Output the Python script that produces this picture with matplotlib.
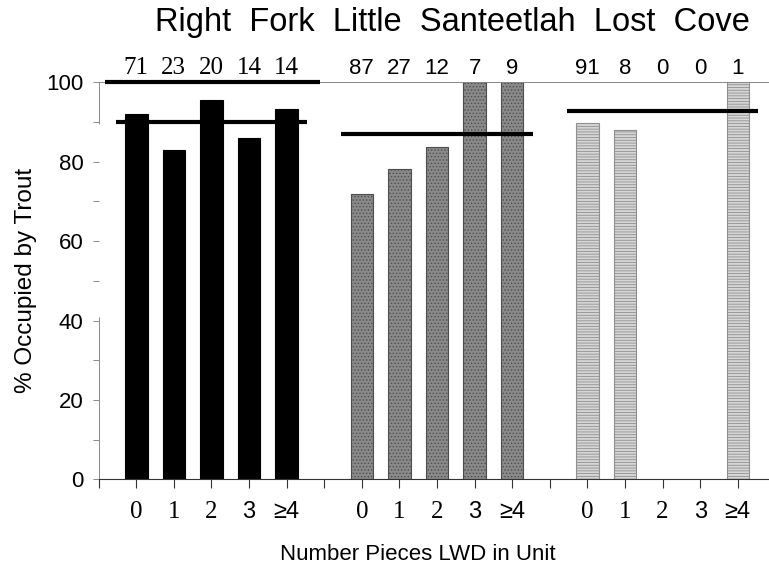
import numpy as np
import matplotlib
matplotlib.use('Agg')
from matplotlib import pyplot as plt

plt.rcParams['font.family'] = ['Liberation Sans', 'DejaVu Sans']
plt.rcParams['hatch.linewidth'] = 0.6

# data
streams = ['Right Fork', 'Little Santeetlah', 'Lost Cove']
lwd_labels = ['0', '1', '2', '3', '\u22654']
right_fork = [92.0, 82.9, 95.5, 86.1, 93.3]
little_sant = [71.8, 78.2, 83.8, 100.0, 100.0]
lost_cove = [89.7, 88.1, 0.0, 0.0, 100.0]
stream_means = [90.1, 87.1, 92.8]
counts_rf = [71, 23, 20, 14, 14]
counts_ls = [87, 27, 12, 7, 9]
counts_lc = [91, 8, 0, 0, 1]

values = [right_fork, little_sant, lost_cove]
counts = [counts_rf, counts_ls, counts_lc]
face = ['black', '#8a8a8a', '#d6d6d6']
edge = ['black', '#4d4d4d', '#8f8f8f']
hatch = [None, '.....', '------']

fig = plt.figure(figsize=(7.69, 5.69), dpi=100)
ax = fig.add_axes([0.1283, 0.1576, 0.8717, 0.6977])

for g in range(3):
    x = np.arange(5) + 1 + 6 * g
    vals = np.array(values[g])
    keep = vals > 0
    ax.bar(x[keep], vals[keep], width=0.6, color=face[g], edgecolor=edge[g],
           hatch=hatch[g], linewidth=0.8, zorder=2)
    # stream mean
    ax.hlines(stream_means[g], x[0] - 0.55, x[-1] + 0.55, color='black', lw=3, zorder=3)
    # sample size above each bar
    fam = 'Liberation Serif' if g == 0 else 'Liberation Sans'
    fs = 18 if g == 0 else 16
    for xi, c in zip(x, counts[g]):
        ax.text(xi, 102.1, str(c), ha='center', va='baseline', fontsize=fs,
                family=fam, clip_on=False)

# heavy stroke on top frame above first group
ax.hlines(100, 0.17, 5.88, color='black', lw=3, zorder=4, clip_on=False)

ax.set_xlim(0, 17.83)
ax.set_ylim(0, 100)

ticks = np.arange(18)
tlabels = [''] * 18
for g in range(3):
    for i, lab in enumerate(lwd_labels):
        tlabels[1 + 6 * g + i] = lab
ax.set_xticks(ticks)
ax.set_xticklabels(tlabels)
for t in ax.get_xticklabels():
    if t.get_text() in ('0', '1', '2'):
        t.set_family('Liberation Serif')
        t.set_fontsize(18)
    else:
        t.set_fontsize(17)
ax.tick_params(axis='x', direction='out', length=6.5, width=0.8, color='#333333', pad=9)

ax.set_yticks([0, 20, 40, 60, 80, 100])
ax.set_yticks(np.arange(10, 100, 20), minor=True)
ax.tick_params(axis='y', which='both', direction='out', length=4, width=0.6,
               color='#777777', labelsize=16, pad=7)

ax.spines['right'].set_visible(False)
ax.spines['top'].set_color('#888888')
ax.spines['top'].set_linewidth(0.7)
ax.spines['bottom'].set_color('#333333')
ax.spines['bottom'].set_linewidth(0.8)
ax.spines['left'].set_visible(False)
# faded left frame, only partly visible in the scan
ax.vlines(0, 0, 41, color='#888888', lw=0.7, clip_on=False)
ax.vlines(0, 89.5, 100, color='#888888', lw=0.7, clip_on=False)

ax.set_ylabel('% Occupied by Trout', fontsize=17.5)
ax.yaxis.set_label_coords(-0.092, 0.5)
ax.set_xlabel('Number Pieces LWD in Unit', fontsize=16)
ax.xaxis.set_label_coords(0.476, -0.19)
ax.xaxis.label.set_va('center')

title = '  '.join(s.replace(' ', '  ') for s in streams)
fig.text(452 / 769, 1 - 22 / 569, title, ha='center', va='center', fontsize=23.5)

fig.savefig('out.png', dpi=100)
